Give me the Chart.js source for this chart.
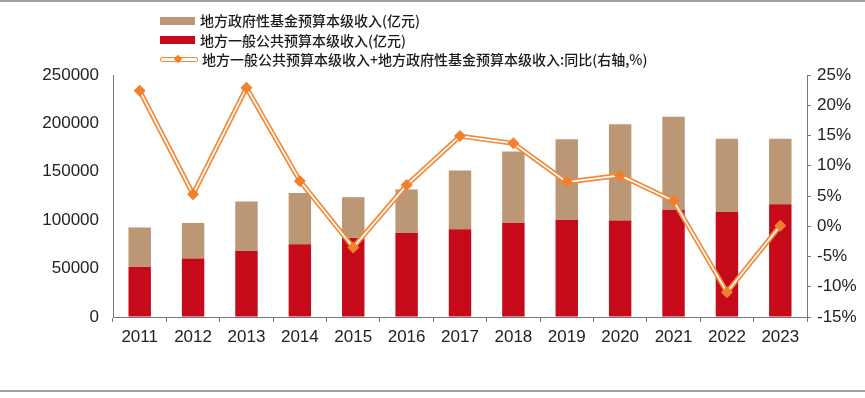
<!DOCTYPE html>
<html>
<head>
<meta charset="utf-8">
<script src="https://cdn.jsdelivr.net/npm/chart.js@4"></script>
<style>
  body { margin: 0; background: #fff; }
  #wrap { position: relative; width: 865px; height: 398px; font-family: "Noto Sans CJK SC", sans-serif; }
  #topRule { position: absolute; left: 0; top: 0; width: 865px; height: 2px; background: #a0a0a0; }
  #bottomRule { position: absolute; left: 0; top: 390px; width: 865px; height: 2px; background: #a0a0a0; }
  #legend { position: absolute; left: 160px; top: 11px; font-size: 14px; font-weight: 500; color: #1a1a1a; }
  .row { height: 19.5px; line-height: 19.5px; display: flex; align-items: center; white-space: nowrap; }
  .box { width: 35px; height: 8px; margin-right: 5px; }
  .lineSw { position: relative; width: 36px; height: 3px; border: 1.5px solid #f28a3a; border-radius: 2px; margin-right: 4px; }
  .lineSw span { position: absolute; left: 14px; top: -2px; width: 6px; height: 6px; background: #f07f2e; transform: rotate(45deg); }
</style>
</head>
<body>
<div id="wrap">
  <div id="topRule"></div>
  <canvas id="myChart" width="865" height="398"></canvas>
  <div id="legend"></div>
  <div id="bottomRule"></div>
</div>
<script>
const years = ['2011', '2012', '2013', '2014', '2015', '2016', '2017', '2018', '2019', '2020', '2021', '2022', '2023'];
// 地方一般公共预算本级收入(亿元)
const generalRevenue = [51700, 60400, 68300, 75200, 81700, 86900, 90700, 97200, 100300, 99700, 110700, 108600, 116600];
// 地方政府性基金预算本级收入(亿元)
const fundRevenue = [40800, 36800, 51000, 52800, 42100, 44900, 60700, 73800, 83200, 99300, 96200, 75500, 67500];
// 合计同比(%)
const yoyGrowth = [22.4, 5.3, 22.9, 7.5, -3.5, 6.8, 14.9, 13.7, 7.3, 8.4, 4.2, -10.9, 0.1];

const fundLabel = '地方政府性基金预算本级收入(亿元)';
const generalLabel = '地方一般公共预算本级收入(亿元)';
const yoyLabel = '地方一般公共预算本级收入+地方政府性基金预算本级收入:同比(右轴,%)';

const RED = '#c70a19';
const TAN = '#bb9776';
const ORANGE = '#f28a3a';

const tickFont = { family: 'Liberation Sans', size: 17 };

const ctx = document.getElementById('myChart').getContext('2d');
const chart = new Chart(ctx, {
  type: 'bar',
  data: {
    labels: years,
    datasets: [
      {
        // markers on top
        type: 'line',
        data: yoyGrowth,
        yAxisID: 'y1',
        showLine: false,
        pointStyle: 'rectRot',
        pointRadius: 6,
        pointBackgroundColor: '#f07f2e',
        pointBorderWidth: 0,
        order: 0,
      },
      {
        // white centre of the double line
        type: 'line',
        data: yoyGrowth,
        yAxisID: 'y1',
        borderColor: '#ffffff',
        borderWidth: 1.6,
        pointRadius: 0,
        lineTension: 0,
        order: 1,
      },
      {
        type: 'line',
        label: yoyLabel,
        data: yoyGrowth,
        yAxisID: 'y1',
        borderColor: ORANGE,
        borderWidth: 5,
        pointRadius: 0,
        lineTension: 0,
        order: 2,
      },
      {
        label: generalLabel,
        data: generalRevenue,
        backgroundColor: RED,
        stack: 'rev',
        order: 3,
      },
      {
        label: fundLabel,
        data: fundRevenue,
        backgroundColor: TAN,
        stack: 'rev',
        order: 4,
      },
    ],
  },
  options: {
    responsive: false,
    animation: false,
    layout: { padding: { top: 75, left: 0, right: 0, bottom: 0 } },
    datasets: { bar: { barPercentage: 0.42, categoryPercentage: 1 } },
    plugins: { legend: { display: false }, tooltip: { enabled: false } },
    scales: {
      x: {
        stacked: true,
        offset: true,
        grid: { display: true, drawOnChartArea: false, offset: true, tickLength: 5, color: '#777' },
        border: { color: '#777', width: 1 },
        ticks: { color: '#222', font: tickFont, padding: 5, maxRotation: 0 },
        afterFit(scale) { scale.height = 81; },
      },
      y: {
        stacked: true,
        min: 0,
        max: 250000,
        ticks: { stepSize: 50000, color: '#222', font: tickFont, padding: 14, callback: (v) => String(v) },
        grid: { display: true, drawOnChartArea: false, tickLength: 0, color: '#777' },
        border: { color: '#777', width: 1 },
        afterFit(scale) { scale.width = 113; },
      },
      y1: {
        position: 'right',
        stacked: false,
        min: -15,
        max: 25,
        ticks: { stepSize: 5, color: '#222', font: tickFont, padding: 6, callback: (v) => v + '%' },
        grid: { display: true, drawOnChartArea: false, tickLength: 4, color: '#777' },
        border: { color: '#777', width: 1 },
        afterFit(scale) { scale.width = 58; },
      },
    },
  },
});

// legend as html, built from the dataset labels
const legend = document.getElementById('legend');
[[fundLabel, TAN], [generalLabel, RED]].forEach(([text, color]) => {
  const row = document.createElement('div');
  row.className = 'row';
  row.innerHTML = '<div class="box" style="background:' + color + '"></div>' + text;
  legend.appendChild(row);
});
const lineRow = document.createElement('div');
lineRow.className = 'row';
lineRow.innerHTML = '<div class="lineSw"><span></span></div>' + yoyLabel;
legend.appendChild(lineRow);
</script>
</body>
</html>
